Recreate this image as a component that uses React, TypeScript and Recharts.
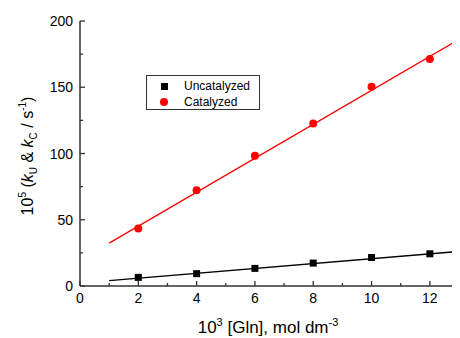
import { ComposedChart, Scatter, XAxis, YAxis, Legend } from 'recharts'

const glnConc = [2, 4, 6, 8, 10, 12]
const uncatalyzed = [6.5, 9.3, 13.3, 17.3, 21.5, 24.3]
const catalyzed = [43.4, 72.3, 98.3, 122.7, 150.3, 171.4]

// fitted lines at their ends
const fitX = [1, 13]
const uncatFit = [4.0, 26.1]
const catFit = [32.4, 186.0]

const xTicks = [0, 1, 2, 3, 4, 5, 6, 7, 8, 9, 10, 11, 12, 13]
const yTicks = [0, 25, 50, 75, 100, 125, 150, 175, 200]

const FONT = '"Liberation Sans", Arial, sans-serif'
const AXIS = '#333'

const toPts = (xs: number[], ys: number[]) => xs.map((x, i) => ({ x, y: ys[i] }))

const uncatData = toPts(glnConc, uncatalyzed)
const catData = toPts(glnConc, catalyzed)
const uncatLine = toPts(fitX, uncatFit)
const catLine = toPts(fitX, catFit)

const BottomTick = ({ x, y, payload }: any) => {
  const major = payload.value % 2 === 0
  return (
    <g>
      <line x1={x} x2={x} y1={y} y2={y - (major ? 5 : 3)} stroke={AXIS} strokeWidth={1.3} />
      {major && (
        <text x={x} y={y + 17} textAnchor="middle" fontSize={14} fontFamily={FONT} fill="#000">
          {payload.value}
        </text>
      )}
    </g>
  )
}

const TopTick = ({ x, y, payload }: any) => {
  const major = payload.value % 2 === 0
  return <line x1={x} x2={x} y1={y} y2={y + (major ? 5 : 3)} stroke={AXIS} strokeWidth={1.3} />
}

const LeftTick = ({ x, y, payload }: any) => {
  const major = payload.value % 50 === 0
  return (
    <g>
      <line x1={x} x2={x + (major ? 5 : 3)} y1={y} y2={y} stroke={AXIS} strokeWidth={1.3} />
      {major && (
        <text x={x - 7} y={y + 5} textAnchor="end" fontSize={14} fontFamily={FONT} fill="#000">
          {payload.value}
        </text>
      )}
    </g>
  )
}

const RightTick = ({ x, y, payload }: any) => {
  const major = payload.value % 50 === 0
  return <line x1={x} x2={x - (major ? 5 : 3)} y1={y} y2={y} stroke={AXIS} strokeWidth={1.3} />
}

const XTitle = () => (
  <text x={260} y={325} textAnchor="middle" fontSize={17} fontFamily={FONT} fill="#000">
    10<tspan dy={-7} fontSize={11}>3</tspan>
    <tspan dy={7}> [Gln], mol dm</tspan>
    <tspan dy={-7} fontSize={11}>-3</tspan>
  </text>
)

const YTitle = () => (
  <text
    x={25}
    y={148}
    transform="rotate(-90, 25, 148)"
    textAnchor="middle"
    fontSize={16}
    fontFamily={FONT}
    fill="#000"
  >
    10<tspan dy={-7} fontSize={10}>5</tspan>
    <tspan dy={7}> (</tspan>
    <tspan fontStyle="italic">k</tspan>
    <tspan dy={4} fontSize={10}>U</tspan>
    <tspan dy={-4}> &amp; </tspan>
    <tspan fontStyle="italic">k</tspan>
    <tspan dy={4} fontSize={10}>C</tspan>
    <tspan dy={-4}> / s</tspan>
    <tspan dy={-7} fontSize={10}>-1</tspan>
    <tspan dy={7}>)</tspan>
  </text>
)

const Square = ({ cx, cy }: any) => <rect x={cx - 3.5} y={cy - 3.5} width={7} height={7} fill="#000" />
const Dot = ({ cx, cy }: any) => <circle cx={cx} cy={cy} r={4} fill="#ff0000" />
const NoMark = () => <g />

const LegendBox = () => (
  <div
    style={{
      border: '1px solid #333',
      width: 112,
      height: 33,
      position: 'relative',
      fontFamily: FONT,
      fontSize: 12,
      background: '#fff',
    }}
  >
    <span style={{ position: 'absolute', left: 14, top: 7, width: 7, height: 7, background: '#000' }} />
    <span style={{ position: 'absolute', left: 37, top: 2, lineHeight: '16px' }}>Uncatalyzed</span>
    <span
      style={{ position: 'absolute', left: 13, top: 22, width: 8, height: 8, borderRadius: 4, background: '#ff0000' }}
    />
    <span style={{ position: 'absolute', left: 37, top: 18, lineHeight: '16px' }}>Catalyzed</span>
  </div>
)

export default function App() {
  return (
    <ComposedChart width={452} height={330} margin={{ top: 13, right: 1, left: 0, bottom: 0 }}>
      <XAxis
        xAxisId="bottom"
        type="number"
        dataKey="x"
        domain={[0, 13]}
        ticks={xTicks}
        interval={0}
        allowDataOverflow
        height={52}
        tickSize={0}
        tickMargin={0}
        tickLine={false}
        axisLine={{ stroke: AXIS, strokeWidth: 1.5 }}
        tick={<BottomTick />}
        label={<XTitle />}
      />
      <XAxis
        xAxisId="top"
        orientation="top"
        type="number"
        dataKey="x"
        domain={[0, 13]}
        ticks={xTicks}
        interval={0}
        allowDataOverflow
        height={0}
        tickSize={0}
        tickMargin={0}
        tickLine={false}
        axisLine={{ stroke: AXIS, strokeWidth: 1.5 }}
        tick={<TopTick />}
      />
      <YAxis
        yAxisId="left"
        type="number"
        dataKey="y"
        domain={[0, 200]}
        ticks={yTicks}
        interval={0}
        allowDataOverflow
        width={72}
        tickSize={0}
        tickMargin={0}
        tickLine={false}
        axisLine={{ stroke: AXIS, strokeWidth: 1.5 }}
        tick={<LeftTick />}
        label={<YTitle />}
      />
      <YAxis
        yAxisId="right"
        orientation="right"
        type="number"
        dataKey="y"
        domain={[0, 200]}
        ticks={yTicks}
        interval={0}
        allowDataOverflow
        width={0}
        tickSize={0}
        tickMargin={0}
        tickLine={false}
        axisLine={{ stroke: AXIS, strokeWidth: 1.5 }}
        tick={<RightTick />}
      />
      <Legend
        layout="horizontal"
        verticalAlign="middle"
        align="center"
        content={<LegendBox />}
        wrapperStyle={{ position: 'absolute', left: 138, top: 67, width: 'auto', height: 'auto' }}
      />
      <Scatter
        xAxisId="bottom"
        yAxisId="left"
        data={uncatLine}
        dataKey="y"
        line={{ stroke: '#000', strokeWidth: 1.3 }}
        shape={<NoMark />}
        legendType="none"
        isAnimationActive={false}
      />
      <Scatter
        xAxisId="bottom"
        yAxisId="left"
        data={catLine}
        dataKey="y"
        line={{ stroke: '#ff0000', strokeWidth: 1.3 }}
        shape={<NoMark />}
        legendType="none"
        isAnimationActive={false}
      />
      <Scatter
        name="Uncatalyzed"
        xAxisId="bottom"
        yAxisId="left"
        data={uncatData}
        dataKey="y"
        shape={<Square />}
        isAnimationActive={false}
      />
      <Scatter
        name="Catalyzed"
        xAxisId="bottom"
        yAxisId="left"
        data={catData}
        dataKey="y"
        shape={<Dot />}
        isAnimationActive={false}
      />
    </ComposedChart>
  )
}
